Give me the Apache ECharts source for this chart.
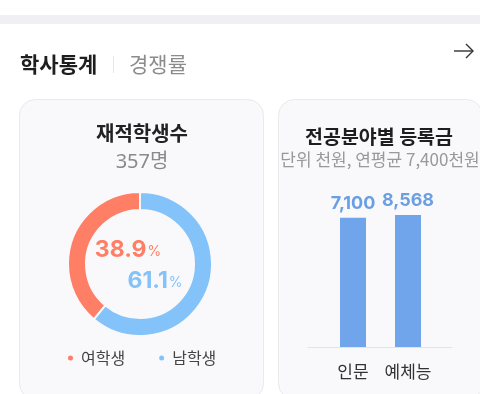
<!DOCTYPE html>
<html>
<head>
<meta charset="utf-8">
<script src="https://cdn.jsdelivr.net/npm/echarts@6/dist/echarts.min.js"></script>
<style>
html,body{margin:0;padding:0;background:#fff;}
#c{width:480px;height:394px;}
</style>
</head>
<body>
<div id="c"></div>
<script>
// ---- data ----
const tabs = ['학사통계', '경쟁률'];
const studentTitle = '재적학생수';
const genderNames = ['여학생', '남학생'];
const genderCounts = [139, 218];
const feeTitle = '전공분야별 등록금';
const feeSubtitle = '단위 천원, 연평균 7,400천원';
const majors = ['인문', '예체능'];
const fees = [7100, 8568];

const FONT = '"Noto Sans CJK KR", "Noto Sans", sans-serif';
const NUMFONT = '"Noto Sans", "Noto Sans CJK KR", sans-serif';
const RED = '#FF7E66';
const BLUE = '#84C3FA';
const BARBLUE = '#71A5EB';

const total = genderCounts.reduce((a, b) => a + b, 0);
const pct = genderCounts.map(v => (v / total * 100).toFixed(1));

const chart = echarts.init(document.getElementById('c'), null, {renderer: 'canvas'});

const option = {
  backgroundColor: '#ffffff',
  animation: false,
  textStyle: {fontFamily: FONT},
  graphic: [
    {type: 'rect', z: 0, shape: {x: 0, y: 15, width: 480, height: 9}, style: {fill: '#f0f0f4'}},
    {type: 'text', z: 5, style: {text: tabs[0], x: 20, y: 64, textVerticalAlign: 'middle', font: 'bold 21px ' + FONT, fill: '#1e1e1e'}},
    {type: 'line', z: 5, shape: {x1: 113.5, y1: 56, x2: 113.5, y2: 73}, style: {stroke: '#e6e6e8', lineWidth: 1}},
    {type: 'text', z: 5, style: {text: tabs[1], x: 129, y: 64, textVerticalAlign: 'middle', font: '21px ' + FONT, fill: '#8c8c8c'}},
    {type: 'polyline', z: 5, shape: {points: [[454, 51], [473, 51]]}, style: {stroke: '#333', lineWidth: 1.4, fill: null}},
    {type: 'polyline', z: 5, shape: {points: [[466, 44], [473, 51], [466, 58]]}, style: {stroke: '#333', lineWidth: 1.4, fill: null}},
    // cards
    {type: 'rect', z: 0, shape: {x: 19.5, y: 99.5, width: 244, height: 300, r: 16}, style: {fill: '#f9f9fb', stroke: '#e9e9ee', lineWidth: 1}},
    {type: 'rect', z: 0, shape: {x: 278.5, y: 99.5, width: 204, height: 300, r: 16}, style: {fill: '#f9f9fb', stroke: '#e9e9ee', lineWidth: 1}},
    // left card text
    {type: 'text', z: 5, style: {text: studentTitle, x: 142, y: 133, textAlign: 'center', textVerticalAlign: 'middle', font: 'bold 20px ' + FONT, fill: '#222'}},
    {type: 'text', z: 5, style: {text: total + '명', x: 142, y: 162, textAlign: 'center', textVerticalAlign: 'middle', font: '20px ' + NUMFONT, fill: '#8a8a8a'}},
    {type: 'text', z: 5, style: {
      text: '{a|' + pct[0] + '}{b|%}', x: 128, y: 250, textAlign: 'center', textVerticalAlign: 'middle',
      rich: {a: {fontSize: 23, fontWeight: 'bold', fill: RED, color: RED, fontFamily: 'Inter, ' + FONT},
             b: {fontSize: 14, fill: RED, color: RED, fontFamily: 'Inter, ' + FONT, padding: [4, 0, 0, 1]}}
    }},
    {type: 'text', z: 5, style: {
      text: '{a|' + pct[1] + '}{b|%}', x: 155, y: 281, textAlign: 'center', textVerticalAlign: 'middle',
      rich: {a: {fontSize: 23, fontWeight: 'bold', fill: BLUE, color: BLUE, fontFamily: 'Inter, ' + FONT},
             b: {fontSize: 14, fill: BLUE, color: BLUE, fontFamily: 'Inter, ' + FONT, padding: [4, 0, 0, 1]}}
    }},
    // right card text
    {type: 'text', z: 5, style: {text: feeTitle, x: 379, y: 137, textAlign: 'center', textVerticalAlign: 'middle', font: 'bold 19.5px ' + FONT, fill: '#1e1e1e'}},
    {type: 'text', z: 5, style: {text: feeSubtitle, x: 380, y: 160, textAlign: 'center', textVerticalAlign: 'middle', font: '17px ' + FONT, fill: '#999'}}
  ],
  legend: {
    data: genderNames,
    left: 61,
    top: 345,
    icon: 'circle',
    itemWidth: 7,
    itemHeight: 7,
    itemGap: 32,
    textStyle: {fontSize: 16, color: '#444', fontFamily: FONT, padding: [0, 0, 0, 2]}
  },
  grid: [
    {left: 325.5, width: 110, top: 212.8, height: 134.2},
    {left: 308, width: 144, top: 212.8, height: 134.2}
  ],
  xAxis: [
    {type: 'category', gridIndex: 0, data: majors,
     axisLine: {show: false}, axisTick: {show: false},
     axisLabel: {interval: 0, hideOverlap: false, fontSize: 17, color: '#333', margin: 16, fontFamily: FONT}},
    {type: 'category', gridIndex: 1, data: [],
     axisLine: {show: true, lineStyle: {color: '#e4e4e8', width: 1}}, axisTick: {show: false}, axisLabel: {show: false}}
  ],
  yAxis: [
    {type: 'log', gridIndex: 0, logBase: 10, min: 1, max: 10000, show: false},
    {type: 'value', gridIndex: 1, show: false}
  ],
  series: [
    {
      type: 'pie',
      center: [140, 264],
      radius: [54, 72],
      startAngle: 90,
      clockwise: false,
      label: {show: false},
      labelLine: {show: false},
      silent: true,
      itemStyle: {borderColor: '#f9f9fb', borderWidth: 2},
      data: genderNames.map((n, i) => ({name: n, value: genderCounts[i], itemStyle: {color: i === 0 ? RED : BLUE}}))
    },
    {
      type: 'bar',
      xAxisIndex: 0, yAxisIndex: 0,
      data: fees,
      barWidth: 26,
      itemStyle: {color: BARBLUE},
      label: {show: true, position: 'top', distance: 5, fontSize: 18, fontWeight: 'bold', color: '#6b9fe4',
              fontFamily: 'Inter, ' + FONT,
              formatter: p => p.value.toLocaleString('en-US')}
    }
  ]
};
chart.setOption(option);
</script>
</body>
</html>
